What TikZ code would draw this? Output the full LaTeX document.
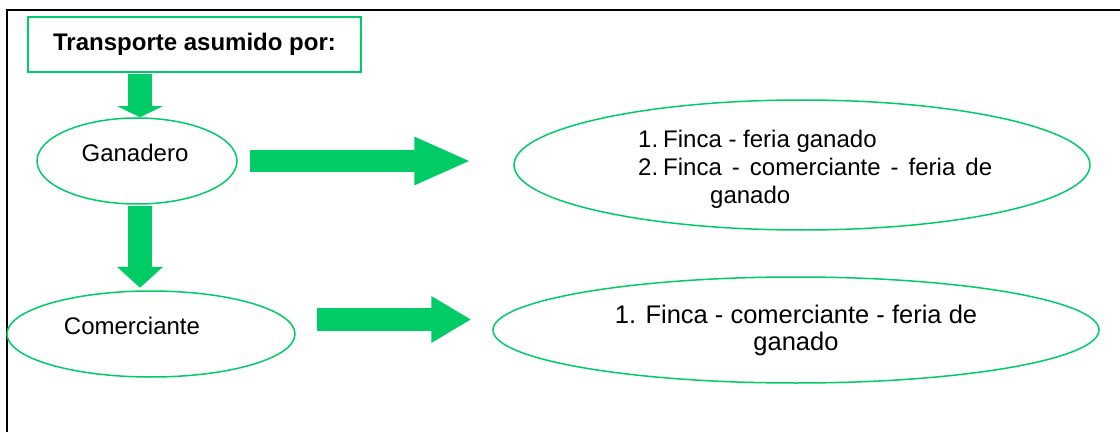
\documentclass[tikz,border=0pt]{standalone}
\usepackage{fontspec}
\setmainfont{Liberation Sans}
\usetikzlibrary{arrows.meta,positioning,shapes.geometric}
\definecolor{tgreen}{HTML}{00CC66}

\begin{document}
\begin{tikzpicture}[x=1pt,y=1pt,
  oval/.style={ellipse,draw=tgreen,line width=1.5pt,inner sep=0pt},
  txt/.style={inner sep=0pt,font=\fontsize{24}{28}\selectfont},
  fat/.style n args={3}{draw=tgreen,line width=#1,
              -{Triangle[length=#2,width=#3]}}
]
\useasboundingbox (0,0) rectangle (1120,432);

% Frame
\draw[line width=2pt] (7,0) -- (7,422) -- (1120,422);

% Title
\node[draw=tgreen,line width=1.2pt,minimum width=333pt,minimum height=55pt,
      inner sep=0pt,font=\fontsize{24}{28}\selectfont\bfseries]
  (ttl) at (194.5,387.5) {Transporte asumido por:};

% ---- Actors ------------------------------------------------
\node[oval,minimum width=200pt,minimum height=86pt] (gan) at (137,271) {};
\node[oval,minimum width=288pt,minimum height=86pt] (com) at (151,98)  {};
\node[txt,anchor=base] (ganT) at (135,270) {Ganadero};
\node[txt,anchor=base] (comT) at (132,98)  {Comerciante};

% ---- Routes ------------------------------------------------
\node[oval,minimum width=576pt,minimum height=130pt] (fin1) at (802,267) {};
\node[txt,align=left,anchor=north west] (fin1T) at (638,302.5)
  {\makebox[25pt][l]{1.}Finca - feria ganado\\
   \makebox[25pt][l]{2.}\makebox[329pt][s]{Finca - comerciante - feria de}\\
   \hspace*{72pt}ganado};
\node[oval,minimum width=606pt,minimum height=106pt,align=center,
      font=\fontsize{25.5}{27}\selectfont]
  (fin2) at (796,102) {1. Finca - comerciante - feria de\\ganado};

% ---- Arrows ------------------------------------------------
\draw[fat={24pt}{11pt}{45pt}] ([shift={(3,43)}]gan.north) -- ([xshift=3pt]gan.north);
\draw[fat={24pt}{21pt}{45pt}] ([shift={(3,-1)}]gan.south) -- ([shift={(3,-83)}]gan.south);
\draw[fat={22pt}{57pt}{44pt}] ([xshift=12pt]gan.east) -- ([xshift=-42pt]fin1.west |- gan.east);
\draw[fat={23pt}{40pt}{44pt}] ([shift={(21,14.5)}]com.east) -- ([shift={(-21,10.5)}]fin2.west);

\end{tikzpicture}
\end{document}
